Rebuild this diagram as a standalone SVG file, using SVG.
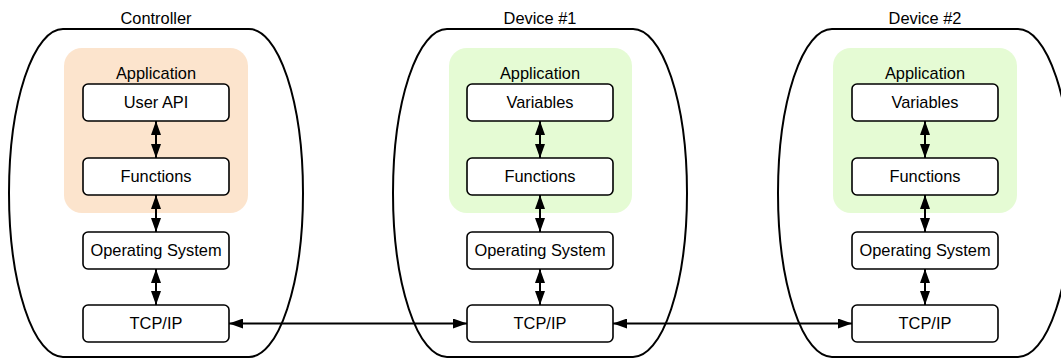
<svg xmlns="http://www.w3.org/2000/svg" width="1061" height="360" viewBox="0 0 1061 360">
  <style>
    .hull { fill: #ffffff; stroke: #000000; stroke-width: 2; }
    .app-ctl { fill: #fce4cd; }
    .app-dev { fill: #e5fbd4; }
    .box { fill: #ffffff; stroke: #000000; stroke-width: 1.6; }
    .lbl { font-family: "Liberation Sans", Arial, sans-serif; font-size: 16.4px; fill: #000000; text-anchor: middle; }
    .link { fill: none; stroke: #000000; stroke-width: 2; marker-start: url(#head); marker-end: url(#head); }
  </style>
  <defs>
    <marker id="head" viewBox="0 0 14 10" refX="14" refY="5" markerWidth="14" markerHeight="10" markerUnits="userSpaceOnUse" orient="auto-start-reverse">
      <path d="M0,0 L14,5 L0,10 Z" fill="#000000"/>
    </marker>
  </defs>

  <rect width="1061" height="360" fill="#ffffff"/>

  <!-- Controller -->
  <g id="controller">
    <text class="lbl" x="156" y="24">Controller</text>
    <rect class="hull" x="9" y="29" width="294" height="328" rx="54" ry="164"/>
    <rect class="app-ctl" x="64" y="48" width="184" height="165" rx="18"/>
    <text class="lbl" x="156" y="79">Application</text>
  </g>
  <g id="ctl-userapi">
    <rect class="box" x="83" y="84" width="146" height="37" rx="5"/>
    <text class="lbl" x="156" y="108">User API</text>
  </g>
  <g id="ctl-functions">
    <rect class="box" x="83" y="158" width="146" height="37" rx="5"/>
    <text class="lbl" x="156" y="182">Functions</text>
  </g>
  <g id="ctl-os">
    <rect class="box" x="83" y="232" width="146" height="37" rx="5"/>
    <text class="lbl" x="156" y="256">Operating System</text>
  </g>
  <g id="ctl-tcpip">
    <rect class="box" x="83" y="305" width="146" height="37" rx="5"/>
    <text class="lbl" x="156" y="329">TCP/IP</text>
  </g>

  <!-- Device #1 -->
  <g id="device1">
    <text class="lbl" x="540" y="24">Device #1</text>
    <rect class="hull" x="393" y="29" width="294" height="328" rx="54" ry="164"/>
    <rect class="app-dev" x="449" y="48" width="183" height="165" rx="18"/>
    <text class="lbl" x="540" y="79">Application</text>
  </g>
  <g id="dev1-variables">
    <rect class="box" x="467" y="84" width="146" height="37" rx="5"/>
    <text class="lbl" x="540" y="108">Variables</text>
  </g>
  <g id="dev1-functions">
    <rect class="box" x="467" y="158" width="146" height="37" rx="5"/>
    <text class="lbl" x="540" y="182">Functions</text>
  </g>
  <g id="dev1-os">
    <rect class="box" x="467" y="232" width="146" height="37" rx="5"/>
    <text class="lbl" x="540" y="256">Operating System</text>
  </g>
  <g id="dev1-tcpip">
    <rect class="box" x="467" y="305" width="146" height="37" rx="5"/>
    <text class="lbl" x="540" y="329">TCP/IP</text>
  </g>

  <!-- Device #2 -->
  <g id="device2">
    <text class="lbl" x="925" y="24">Device #2</text>
    <rect class="hull" x="778" y="29" width="294" height="328" rx="54" ry="164"/>
    <rect class="app-dev" x="833" y="48" width="184" height="165" rx="18"/>
    <text class="lbl" x="925" y="79">Application</text>
  </g>
  <g id="dev2-variables">
    <rect class="box" x="852" y="84" width="146" height="37" rx="5"/>
    <text class="lbl" x="925" y="108">Variables</text>
  </g>
  <g id="dev2-functions">
    <rect class="box" x="852" y="158" width="146" height="37" rx="5"/>
    <text class="lbl" x="925" y="182">Functions</text>
  </g>
  <g id="dev2-os">
    <rect class="box" x="852" y="232" width="146" height="37" rx="5"/>
    <text class="lbl" x="925" y="256">Operating System</text>
  </g>
  <g id="dev2-tcpip">
    <rect class="box" x="852" y="305" width="146" height="37" rx="5"/>
    <text class="lbl" x="925" y="329">TCP/IP</text>
  </g>

  <!-- Connectors: vertical stack links and network links -->
  <g id="connectors">
    <path class="link" d="M156,121 L156,158"/>
    <path class="link" d="M156,195 L156,232"/>
    <path class="link" d="M156,269 L156,305"/>
    <path class="link" d="M540,121 L540,158"/>
    <path class="link" d="M540,195 L540,232"/>
    <path class="link" d="M540,269 L540,305"/>
    <path class="link" d="M925,121 L925,158"/>
    <path class="link" d="M925,195 L925,232"/>
    <path class="link" d="M925,269 L925,305"/>
    <path class="link" d="M229,323.5 L467,323.5"/>
    <path class="link" d="M613,323.5 L852,323.5"/>
  </g>
</svg>
